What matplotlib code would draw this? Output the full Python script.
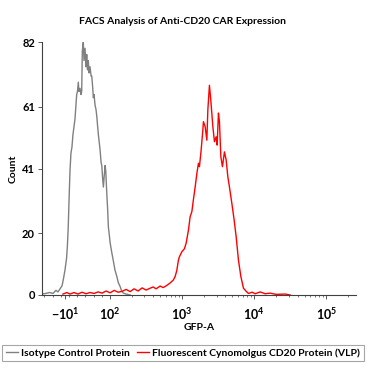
import matplotlib
matplotlib.use("Agg")
import matplotlib.pyplot as plt
from matplotlib.lines import Line2D

plt.rcParams['font.family'] = ['Lato', 'DejaVu Sans']
plt.rcParams['mathtext.fontset'] = 'custom'
plt.rcParams['mathtext.rm'] = 'Lato'
plt.rcParams['mathtext.bf'] = 'Lato:bold'

# GFP-A values (bin centres) and counts
isotype_x = [-66, -57, -47, -39, -32, -27, -22, -17, -14, -10, -6, -4, -2, -0.2,
             2.2, 4.6, 7.1, 9.5, 14.4, 18.6, 20.5, 22.5, 24.2, 26.7, 29.1, 30.8,
             32.3, 34.7, 36.4, 38.9, 41.3, 43.0, 45.0, 46.9, 48.7, 51.1, 53.6,
             55.3, 57.2, 59.2, 60.9, 63.3, 65.8, 67.5, 69.4, 71.4, 73.1, 75.6,
             78.0, 79.7, 81.7, 83.6, 85.3, 87.8, 89.5, 91.9, 93.9, 95.8, 97.6,
             100, 105, 111, 117, 124, 130, 138, 145, 153, 167, 190]
isotype_y = [0.3, 0.5, 0.8, 0.5, 1.5, 1, 2, 3, 5, 8, 12, 16, 22, 30,
             40, 46, 48, 52, 57, 65, 66, 69, 66, 67, 65, 66,
             79, 82, 76, 80, 74, 78, 73, 76, 72, 74, 71,
             71, 68, 64, 65, 61.6, 60, 58, 55, 52, 50, 47,
             43, 42, 38, 35, 38, 42, 40, 33, 28, 22, 20,
             17, 14, 11, 8, 6, 4, 2.7, 1.2, 0.6, 0.3, 0]

vlp_x = [-14.9, -5.1, 2.2, 12.0, 21.8, 31.5, 41.3, 51.1, 60.9, 70.7, 80.5, 90.2,
         100, 114, 129, 147, 167, 190, 215, 245, 278, 316, 359, 396, 435, 495,
         545, 613, 681, 757, 800, 844, 888, 917, 990, 1076, 1136, 1223, 1292,
         1364, 1435, 1516, 1601, 1684, 1739, 1836, 1939, 1976, 2086, 2203, 2275,
         2394, 2504, 2670, 2809, 2967, 3063, 3193, 3297, 3447, 3628, 3867, 4085,
         4313, 4539, 4901, 5275, 5623, 6052, 6536, 7103, 7743, 8333, 9380,
         10320, 12120, 14220, 16680, 20210, 26960, 31620]
vlp_y = [0.3, 0.8, 0.3, 0.8, 0.3, 0.9, 0.4, 0.8, 0.5, 1.0, 0.6, 1.3,
         0.7, 1.5, 0.9, 1.2, 1.8, 1.1, 2.0, 1.3, 2.3, 1.6, 2.2, 2.6, 2.0, 2.9,
         2.4, 3.1, 3.9, 4.9, 6, 8, 11.3, 12.4, 14, 15, 16.8, 21, 25.4,
         27, 31, 35, 39.4, 42.7, 41.6, 47, 53.5, 56.2, 54.6, 50.2, 60,
         68, 63, 54.6, 49.7, 51.3, 48.6, 59, 56.2, 44.8, 41.6, 46.4, 43.8,
         38.3, 35, 29.7, 24.3, 18.9, 11.3, 6, 2.2, 1.2, 0.5, 0.9,
         0.4, 1.0, 0.4, 0.6, 0.2, 0.3, 0]

x_ticks = [-10, 100, 1000, 10000, 100000]
x_labels = [r'$\mathbf{-10^{1}}$', r'$\mathbf{10^{2}}$', r'$\mathbf{10^{3}}$',
            r'$\mathbf{10^{4}}$', r'$\mathbf{10^{5}}$']
y_ticks = [0, 20, 41, 61, 82]

fig = plt.figure(figsize=(3.78, 3.78), dpi=100)
ax = fig.add_axes([0.111, 0.2196, 0.831, 0.669])

ax.plot(isotype_x, isotype_y, color='#808080', lw=1.0)
ax.plot(vlp_x, vlp_y, color='#ff0000', lw=1.0)

ax.set_xscale('symlog', linthresh=100, linscale=0.513)
ax.set_xlim(-66, 260000)
ax.set_ylim(0, 82)

ax.set_xticks(x_ticks)
ax.set_xticklabels(x_labels)
minor = [-60, -40, -20, 0, 20, 40, 60, 80]
for d in [100, 1000, 10000, 100000]:
    minor += [d * k for k in range(2, 10) if d * k < 260000]
ax.set_xticks(minor, minor=True)
ax.set_yticks(y_ticks)
ax.set_yticklabels([str(v) for v in y_ticks])

for s in ['top', 'right']:
    ax.spines[s].set_visible(False)
for s in ['left', 'bottom']:
    ax.spines[s].set_color('#404040')
    ax.spines[s].set_linewidth(0.8)

ax.tick_params(axis='both', which='major', length=3, width=0.6, color='#404040',
               labelsize=8, pad=2)
ax.tick_params(axis='x', which='major', labelsize=9, pad=5)
ax.tick_params(axis='x', which='minor', length=1.5, width=0.5, color='#404040')
for lab in ax.get_yticklabels():
    lab.set_fontweight('bold')

ax.set_xlabel('GFP-A', fontsize=7.5, fontweight='bold', labelpad=1)
ax.set_ylabel('Count', fontsize=7.5, fontweight='bold', labelpad=3)

fig.text(0.483, 0.942, 'FACS Analysis of Anti-CD20 CAR Expression',
         ha='center', va='center', fontsize=7.5, fontweight='bold')

handles = [Line2D([], [], color='#808080', lw=1.0),
           Line2D([], [], color='#ff0000', lw=1.0)]
leg = fig.legend(handles, ['Isotype Control Protein',
                           'Fluorescent Cynomolgus CD20 Protein (VLP)'],
                 loc='center', bbox_to_anchor=(0.484, 0.066), ncol=2,
                 frameon=True, fancybox=False, handlelength=1.2,
                 handletextpad=0.3, columnspacing=0.6, borderpad=0.35,
                 prop={'size': 7.5, 'weight': 'bold'})
leg.get_frame().set_edgecolor('#909090')
leg.get_frame().set_linewidth(0.8)

fig.savefig('out.png', dpi=100)
